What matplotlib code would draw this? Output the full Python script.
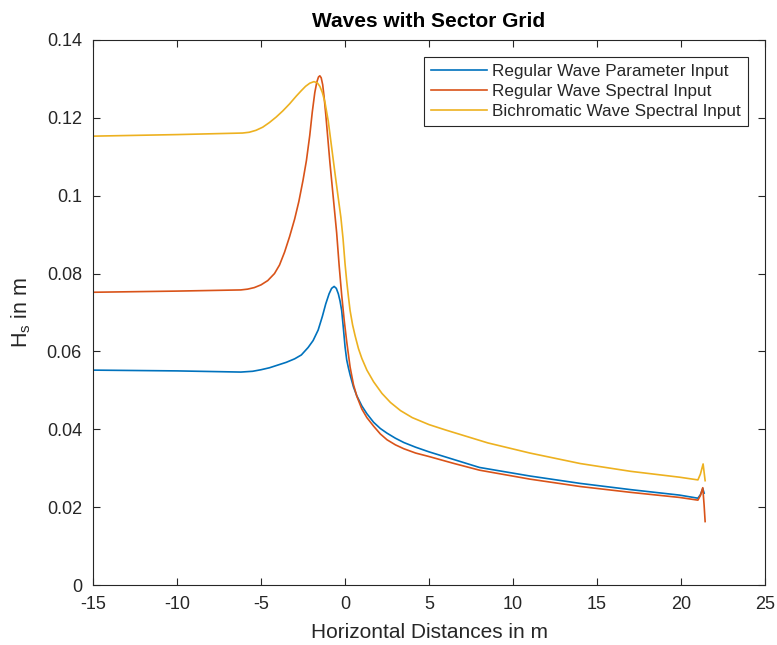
import matplotlib
matplotlib.use('Agg')
import matplotlib.pyplot as plt

plt.rcParams['font.family'] = ['Liberation Sans', 'DejaVu Sans']

# Regular Wave Parameter Input
x_reg_par = [-15, -10, -6.2, -5.5, -5.0, -4.5, -4.0, -3.5, -3.0, -2.6, -2.2, -1.9,
             -1.6, -1.35, -1.15, -0.95, -0.8, -0.65, -0.52, -0.4, -0.3, -0.2, -0.1,
             0.0, 0.1, 0.2, 0.3, 0.5, 0.7, 1.0, 1.3, 1.7, 2.1, 2.5, 3.0, 3.5, 4.2,
             5.0, 6.5, 8.0, 11, 14, 17, 19.9, 21.0, 21.15, 21.29, 21.37]
hs_reg_par = [0.0552, 0.0550, 0.0547, 0.0549, 0.0553, 0.0558, 0.0565, 0.0572, 0.0581,
              0.0591, 0.0610, 0.0628, 0.0655, 0.0690, 0.0722, 0.0748, 0.0762, 0.0767,
              0.0762, 0.0748, 0.0730, 0.0705, 0.0660, 0.0612, 0.0578, 0.0558, 0.0540,
              0.0509, 0.0486, 0.0460, 0.0440, 0.0418, 0.0402, 0.0390, 0.0377, 0.0366,
              0.0354, 0.0342, 0.0322, 0.0302, 0.0280, 0.0261, 0.0245, 0.0231, 0.0223,
              0.0232, 0.0248, 0.0236]

# Regular Wave Spectral Input
x_reg_spec = [-15, -10, -6.2, -5.8, -5.4, -5.0, -4.6, -4.2, -3.9, -3.6, -3.3, -3.0,
              -2.75, -2.5, -2.3, -2.1, -1.95, -1.8, -1.68, -1.58, -1.5, -1.42, -1.33,
              -1.25, -1.15, -1.05, -0.9, -0.7, -0.5, -0.35, -0.2, -0.05, 0.1, 0.3, 0.5,
              0.7, 1.0, 1.3, 1.7, 2.1, 2.5, 3.0, 3.5, 4.2, 5.0, 6.5, 8.0, 11, 14, 17,
              19.9, 21.0, 21.15, 21.29, 21.37, 21.43]
hs_reg_spec = [0.0752, 0.0755, 0.0758, 0.0760, 0.0764, 0.0771, 0.0782, 0.0800, 0.0822,
               0.0855, 0.0895, 0.0940, 0.0985, 0.1040, 0.1090, 0.1155, 0.1215, 0.1265,
               0.1292, 0.1305, 0.1308, 0.1303, 0.1285, 0.1255, 0.1210, 0.1160, 0.1085,
               0.0995, 0.0905, 0.0820, 0.0745, 0.0680, 0.0625, 0.0560, 0.0515, 0.0485,
               0.0452, 0.0430, 0.0408, 0.0388, 0.0373, 0.0360, 0.0350, 0.0339, 0.0330,
               0.0312, 0.0295, 0.0272, 0.0253, 0.0238, 0.0225, 0.0218, 0.0230, 0.0250,
               0.0205, 0.0163]

# Bichromatic Wave Spectral Input
x_bichro = [-15, -10, -6.1, -5.7, -5.3, -4.9, -4.5, -4.1, -3.7, -3.3, -2.9, -2.6,
            -2.35, -2.1, -1.85, -1.65, -1.5, -1.35, -1.2, -1.0, -0.8, -0.6, -0.4,
            -0.25, -0.12, 0.0, 0.1, 0.2, 0.3, 0.45, 0.6, 0.8, 1.0, 1.3, 1.7, 2.2,
            2.7, 3.3, 4.0, 5.0, 6.0, 8.5, 11.0, 14, 17, 19.9, 21.0, 21.15, 21.31, 21.43]
hs_bichro = [0.1153, 0.1157, 0.1161, 0.1163, 0.1168, 0.1176, 0.1188, 0.1202, 0.1218,
             0.1236, 0.1256, 0.1270, 0.1281, 0.1289, 0.1293, 0.1290, 0.1281, 0.1265,
             0.1241, 0.1192, 0.1125, 0.1058, 0.0993, 0.0945, 0.0890, 0.0825, 0.0780,
             0.0741, 0.0705, 0.0668, 0.0640, 0.0607, 0.0582, 0.0552, 0.0522, 0.0492,
             0.0469, 0.0448, 0.0430, 0.0412, 0.0398, 0.0365, 0.0339, 0.0312, 0.0292,
             0.0277, 0.0270, 0.0285, 0.0311, 0.0268]

labels = ['Regular Wave Parameter Input', 'Regular Wave Spectral Input',
          'Bichromatic Wave Spectral Input']
yticks = [0, 0.02, 0.04, 0.06, 0.08, 0.1, 0.12, 0.14]
ytick_labels = ['0', '0.02', '0.04', '0.06', '0.08', '0.1', '0.12', '0.14']
xticks = [-15, -10, -5, 0, 5, 10, 15, 20, 25]

fig = plt.figure(figsize=(7.77, 6.45), dpi=100)
ax = fig.add_axes([0.1197, 0.093, 0.865, 0.845])

ax.plot(x_reg_par, hs_reg_par, color='#0072BD', lw=1.2, label=labels[0])
ax.plot(x_reg_spec, hs_reg_spec, color='#D95319', lw=1.2, label=labels[1])
ax.plot(x_bichro, hs_bichro, color='#EDB120', lw=1.2, label=labels[2])

ax.set_xlim(-15, 25)
ax.set_ylim(0, 0.14)
ax.set_xticks(xticks)
ax.set_xticklabels([str(t) for t in xticks])
ax.set_yticks(yticks)
ax.set_yticklabels(ytick_labels)

grey = '#262626'
for s in ax.spines.values():
    s.set_color(grey)
    s.set_linewidth(0.8)
ax.tick_params(direction='in', top=True, right=True, length=5, width=0.8,
               colors=grey, labelsize=13, pad=8)

ax.set_title('Waves with Sector Grid', fontsize=15, fontweight='bold', color='black', pad=9)
ax.set_xlabel('Horizontal Distances in m', fontsize=15, color=grey, labelpad=7)
ax.set_ylabel(r'H$_\mathregular{s}$ in m', fontsize=15.5, color=grey, labelpad=10)

leg = ax.legend(loc='upper right', fontsize=12.3, handlelength=3.3, labelspacing=0.3,
                borderaxespad=1.0, fancybox=False, framealpha=1, handletextpad=0.3,
                borderpad=0.4)
leg.get_frame().set_edgecolor(grey)
leg.get_frame().set_linewidth(0.8)
for t in leg.get_texts():
    t.set_color(grey)

fig.savefig('out.png', dpi=100, facecolor='white')
